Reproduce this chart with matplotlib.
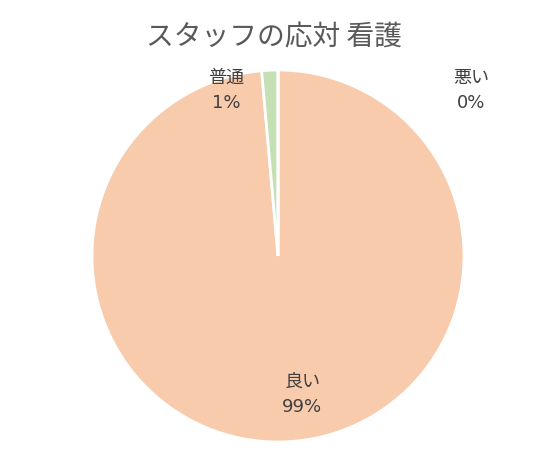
import matplotlib.pyplot as plt

plt.rcParams['font.family'] = ['DejaVu Sans', 'Noto Sans CJK JP']

# Data
categories = ["良い", "普通", "悪い"]
values = [98.6, 1.4, 0.0]
pct_labels = ["99%", "1%", "0%"]
colors = ["#F8CBAD", "#C5E0B4", "#BDD7EE"]

fig = plt.figure(figsize=(5.48, 4.5), dpi=100)
ax = fig.add_axes([92 / 548, 8 / 450, 372 / 548, 372 / 450])

wedges, texts = ax.pie(
    values,
    colors=colors,
    startangle=90,
    counterclock=False,
    radius=1.0,
    labels=[f"{c}\n{p}" for c, p in zip(categories, pct_labels)],
    wedgeprops=dict(edgecolor="white", linewidth=2),
    textprops=dict(fontsize=13, color="#404040", ha="center", va="center",
                   linespacing=1.5),
)

# label placement like Excel best fit
label_pos = [(0.13, -0.745), (-0.28, 0.89), (1.04, 0.89)]
for t, (x, y) in zip(texts, label_pos):
    t.set_position((x, y))
    t.set_ha("center")
    t.set_va("center")

ax.set_xlim(-1, 1)
ax.set_ylim(-1, 1)
ax.set_aspect("equal")
ax.axis("off")

fig.text(274 / 548, 1 - 37 / 450, "スタッフの応対 看護", ha="center", va="center",
         fontsize=20, color="#595959", family=['Noto Sans CJK JP', 'DejaVu Sans'])

fig.savefig("out.png", dpi=100)
